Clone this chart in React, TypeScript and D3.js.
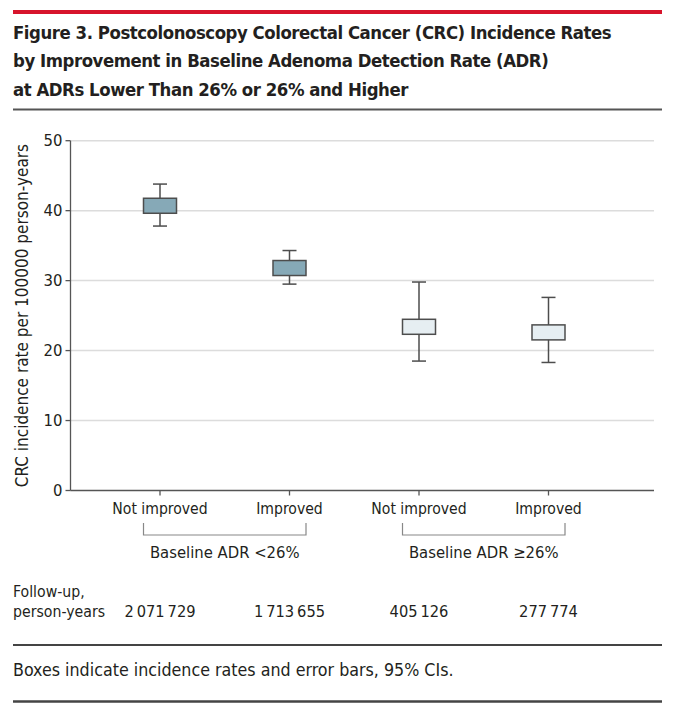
import React from "react";
import * as d3 from "d3";

const categories = ["lowNot", "lowImp", "highNot", "highImp"];
const categoryLabels = ["Not improved", "Improved", "Not improved", "Improved"];
const rates = [40.7, 31.8, 23.4, 22.6];
const lowerCI = [37.8, 29.5, 18.5, 18.3];
const upperCI = [43.8, 34.3, 29.8, 27.6];
const followUp = ["2\u2009071\u2009729", "1\u2009713\u2009655", "405\u2009126", "277\u2009774"];
const groupLabels = ["Baseline ADR <26%", "Baseline ADR \u226526%"];
const groupMembers = [["lowNot", "lowImp"], ["highNot", "highImp"]];
const yTicks = [0, 10, 20, 30, 40, 50];
const titleLines = [
  "Figure 3. Postcolonoscopy Colorectal Cancer (CRC) Incidence Rates",
  "by Improvement in Baseline Adenoma Detection Rate (ADR)",
  "at ADRs Lower Than 26% or 26% and Higher",
];

const FONT = "'Liberation Sans Narrow', 'DejaVu Sans Condensed', 'Roboto Condensed', 'Open Sans', sans-serif";
const TXT = "#231f20";

export default function App() {
  const W = 692, H = 704;
  const axisX = 70.5, axisRight = 654;
  const y = d3.scaleLinear().domain([0, 50]).range([490.5, 140.7]);
  const x = d3.scalePoint<string>().domain(categories).range([160, 548.5]);
  const boxW = 33, boxHalfH = 7.5, capW = 14;
  const fills = ["#86a9b7", "#86a9b7", "#e6eef2", "#e6eef2"];

  return (
    <svg width={W} height={H} style={{ position: "absolute", left: 0, top: 0, background: "#fff" }} fontFamily={FONT}>
      {/* header */}
      <line x1={13} x2={662} y1={12} y2={12} stroke="#d7142c" strokeWidth={4} />
      {titleLines.map((t, i) => (
        <text key={i} x={13} y={38.5 + i * 28.5} fontSize={18.4} fontWeight={700} letterSpacing={-0.45} fill={TXT}>{t}</text>
      ))}
      <line x1={13} x2={662} y1={109.5} y2={109.5} stroke="#555" strokeWidth={2} />

      {/* gridlines */}
      {yTicks.filter(t => t > 0).map(t => (
        <line key={t} x1={axisX} x2={axisRight} y1={y(t)} y2={y(t)} stroke="#dcdcdc" strokeWidth={1.5} />
      ))}
      {/* y axis */}
      <line x1={axisX} x2={axisX} y1={y(50)} y2={y(0)} stroke="#555" strokeWidth={1.3} />
      {yTicks.map(t => (
        <g key={t}>
          <line x1={axisX - 5} x2={axisX} y1={y(t)} y2={y(t)} stroke="#555" strokeWidth={1.3} />
          <text x={axisX - 8} y={y(t)} dy="0.35em" textAnchor="end" fontSize={16.5} fill={TXT}>{t}</text>
        </g>
      ))}
      <text transform={`translate(28,${(y(0) + y(50)) / 2}) rotate(-90)`} textAnchor="middle" fontSize={17} fill={TXT}>
        CRC incidence rate per 100000 person-years
      </text>
      {/* x axis */}
      <line x1={axisX} x2={axisRight} y1={y(0)} y2={y(0)} stroke="#555" strokeWidth={1.3} />
      {categories.map((c, i) => (
        <g key={c}>
          <line x1={x(c)} x2={x(c)} y1={y(0)} y2={y(0) + 5} stroke="#555" strokeWidth={1.3} />
          <text x={x(c)} y={514} textAnchor="middle" fontSize={15.6} fill={TXT}>{categoryLabels[i]}</text>
          <text x={x(c)} y={617} textAnchor="middle" fontSize={16.3} fill={TXT}>{followUp[i]}</text>
        </g>
      ))}
      {/* group brackets */}
      {groupMembers.map((g, i) => {
        const x0 = (x(g[0]) as number) - boxW / 2;
        const x1 = (x(g[1]) as number) + boxW / 2;
        return (
          <g key={i}>
            <path d={`M${x0},523 V535 H${x1} V523`} fill="none" stroke="#888" strokeWidth={1.2} />
            <text x={(x0 + x1) / 2} y={558} textAnchor="middle" fontSize={16.5} fill={TXT}>{groupLabels[i]}</text>
          </g>
        );
      })}
      {/* follow-up label */}
      <text x={13} y={597} fontSize={15.7} fill={TXT}>Follow-up,</text>
      <text x={13} y={617} fontSize={15.7} fill={TXT}>person-years</text>

      {/* boxes and whiskers */}
      {categories.map((c, i) => {
        const cx = x(c) as number;
        return (
          <g key={c} stroke="#4d4d4d" strokeWidth={1.5}>
            <line x1={cx} x2={cx} y1={y(upperCI[i])} y2={y(lowerCI[i])} />
            <line x1={cx - capW / 2} x2={cx + capW / 2} y1={y(upperCI[i])} y2={y(upperCI[i])} />
            <line x1={cx - capW / 2} x2={cx + capW / 2} y1={y(lowerCI[i])} y2={y(lowerCI[i])} />
            <rect x={cx - boxW / 2} y={y(rates[i]) - boxHalfH} width={boxW} height={boxHalfH * 2} fill={fills[i]} />
          </g>
        );
      })}

      {/* footer */}
      <line x1={13} x2={662} y1={645} y2={645} stroke="#444" strokeWidth={2} />
      <text x={13} y={676} fontSize={17.7} fill={TXT}>Boxes indicate incidence rates and error bars, 95% CIs.</text>
      <line x1={13} x2={662} y1={701.5} y2={701.5} stroke="#444" strokeWidth={2.5} />
    </svg>
  );
}
